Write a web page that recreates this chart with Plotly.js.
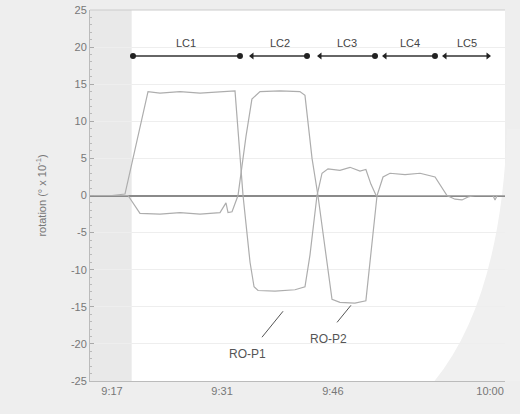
<!DOCTYPE html>
<html>
<head>
<meta charset="utf-8">
<script src="https://cdn.plot.ly/plotly-3.0.1.min.js"></script>
<style>html,body{margin:0;padding:0;background:#eeeeee;}#chart{width:520px;height:414px;}</style>
</head>
<body>
<div id="chart"></div>
<script>
// time axis: minutes after 9:17
const tickVals = [0, 14, 28.1, 48.1];
const tickLabels = ["9:17", "9:31", "9:46", "10:00"];
const yTickVals = [25, 20, 15, 10, 5, 0, -5, -10, -15, -20, -25];
const yTickLabels = ["25", "20", "15", "10", "5", "0", "-5", "-10", "-15", "-20", "-25"];

// RO-P1 rotation (° x 10^-1)
const p1Time = [-2.8, 0, 1.65, 4.58, 6.1, 8.65, 11.2, 13.74, 15.65, 16.67, 17.56, 18.07, 18.58, 20.74, 23.28, 24.55, 25.19, 26.08, 26.72, 27.48, 29.0, 30.28, 31.55, 32.3, 32.95, 33.6, 36.6, 50];
const p1Rot  = [0, 0, 0.2, 14.0, 13.8, 14.0, 13.8, 14.0, 14.1, 0, -9, -12.3, -12.8, -12.9, -12.7, -12.3, -8, 0, 3.0, 3.6, 3.4, 3.8, 3.3, 3.5, 1.5, 0, 0, 0];

// RO-P2 rotation (° x 10^-1)
const p2Time = [-2.8, 0, 2.04, 3.56, 6.1, 8.65, 11.2, 13.74, 14.5, 14.76, 15.27, 16.03, 17.05, 17.8, 18.83, 21.37, 23.9, 24.55, 25.45, 26.2, 27.1, 27.99, 29.0, 30.9, 32.3, 32.95, 33.72, 34.48, 35.37, 37.28, 39.19, 41.1, 41.86, 42.62, 43.64, 44.53, 45.29, 46.18, 48.47, 48.73, 49, 50];
const p2Rot  = [0, 0, 0, -2.4, -2.5, -2.3, -2.5, -2.3, -1.0, -2.3, -2.2, 0, 8, 13.0, 14.0, 14.1, 14.0, 13.5, 5, 0, -7, -14, -14.4, -14.5, -14.2, -8, 0, 2.5, 3.0, 2.8, 3.0, 2.5, 1.2, 0, -0.5, -0.6, -0.2, 0, 0, -0.6, 0, 0];

// load cases
const lcNames = ["LC1", "LC2", "LC3", "LC4", "LC5"];
const lcStart = [2.67, 17.81, 26.46, 34.73, 42.37];
const lcEnd   = [16.28, 24.81, 33.46, 41.09, 47.84];
const lcLevel = 18.8;

// series labels
const seriesLabels = ["RO-P1", "RO-P2"];
const labelPos = [[17.3, -21.3], [27.6, -19.3]];
const pointerFrom = [[19.08, -19.1], [28.63, -17.1]];
const pointerTo = [[21.76, -15.6], [30.4, -14.8]];

const FONT = 'Liberation Sans, Arial, sans-serif';
const lineColor = '#adadad';
const traces = [
  {x: p1Time, y: p1Rot, mode: 'lines', line: {color: lineColor, width: 1.2}, name: 'RO-P1', hoverinfo: 'skip'},
  {x: p2Time, y: p2Rot, mode: 'lines', line: {color: lineColor, width: 1.2}, name: 'RO-P2', hoverinfo: 'skip'}
];

// LC bracket segments
const segX = [], segY = [], symX = [], symY = [], syms = [];
lcNames.forEach((n, i) => {
  segX.push(lcStart[i], lcEnd[i], null);
  segY.push(lcLevel, lcLevel, null);
  symX.push(lcStart[i], lcEnd[i]);
  symY.push(lcLevel, lcLevel);
  syms.push(i === 0 ? 'circle' : 'triangle-left', i === lcNames.length - 1 ? 'triangle-right' : 'circle');
});
traces.push({x: segX, y: segY, mode: 'lines', line: {color: '#333', width: 1.3}, hoverinfo: 'skip'});
traces.push({x: symX, y: symY, mode: 'markers', marker: {color: '#222', size: 6, symbol: syms}, hoverinfo: 'skip'});

// pointer lines
const ptrX = [], ptrY = [];
pointerFrom.forEach((p, i) => { ptrX.push(p[0], pointerTo[i][0], null); ptrY.push(p[1], pointerTo[i][1], null); });
traces.push({x: ptrX, y: ptrY, mode: 'lines', line: {color: '#555', width: 1}, hoverinfo: 'skip'});

const annotations = lcNames.map((n, i) => ({
  x: (lcStart[i] + lcEnd[i]) / 2, y: 20.6, text: n, showarrow: false,
  font: {family: FONT, size: 11, color: '#444'}
}));
seriesLabels.forEach((s, i) => annotations.push({
  x: labelPos[i][0], y: labelPos[i][1], text: s, showarrow: false,
  font: {family: FONT, size: 12, color: '#555'}
}));

const layout = {
  width: 520, height: 414,
  margin: {l: 90, r: 15, t: 10, b: 33},
  paper_bgcolor: '#eeeeee',
  plot_bgcolor: '#ffffff',
  showlegend: false,
  font: {family: FONT, color: '#777', size: 11},
  xaxis: {
    range: [-2.8, 50], tickvals: tickVals, ticktext: tickLabels,
    showgrid: false, zeroline: false, showline: true, linecolor: '#bbbbbb', linewidth: 1,
    ticks: '', tickfont: {size: 11, color: '#777'}, fixedrange: true
  },
  yaxis: {
    range: [-25, 25], tickvals: yTickVals, ticktext: yTickLabels,
    showgrid: true, gridcolor: '#eeeeee', gridwidth: 1,
    zeroline: true, zerolinecolor: '#8a8a8a', zerolinewidth: 2,
    showline: true, linecolor: '#bbbbbb', linewidth: 1,
    ticks: 'inside', ticklen: 4, tickcolor: '#aaa',
    minor: {dtick: 1, ticks: 'inside', ticklen: 2, tickcolor: '#bbb', showgrid: false},
    tickfont: {size: 11, color: '#777'},
    title: {text: 'rotation (° x 10<sup>-1</sup>)', font: {size: 11, color: '#777'}, standoff: 22},
    fixedrange: true
  },
  shapes: [
    {type: 'rect', xref: 'x', yref: 'paper', x0: -2.8, x1: 2.5, y0: 0, y1: 1, fillcolor: '#e9e9e9', line: {width: 0}, layer: 'below'},
    {type: 'path', xref: 'paper', yref: 'paper', path: 'M 0.83 0 Q 0.99 0.22 1.005 0.68 L 1.04 0.68 L 1.04 0 Z', fillcolor: '#f0f0f0', line: {width: 0}, layer: 'below'},
    {type: 'line', xref: 'paper', yref: 'paper', x0: 0, x1: 1, y0: 1, y1: 1, line: {color: '#cccccc', width: 1}}
  ],
  annotations: annotations
};

Plotly.newPlot('chart', traces, layout, {displayModeBar: false, staticPlot: true});
</script>
</body>
</html>
